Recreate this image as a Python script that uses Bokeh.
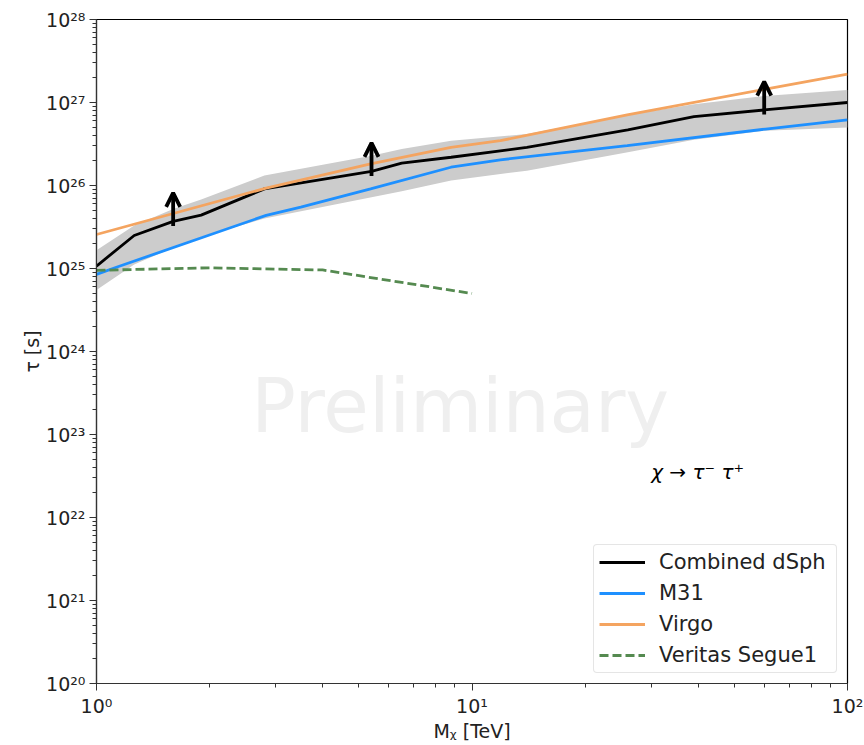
from bokeh.plotting import figure
from bokeh.models import (Range1d, FixedTicker, CustomJSTickFormatter, Arrow, OpenHead,
                          ColumnDataSource, Legend, LegendItem, Label)
from bokeh.core.properties import value
from bokeh.embed import file_html
from bokeh.resources import INLINE

# Combined dSph lower limit on lifetime (tau -> tau- tau+), with its band
dsph_mass = [1.0, 1.26, 1.6, 1.9, 2.8, 5.4, 6.5, 8.8, 14.0, 26.0, 39.0, 60.0, 100.0]
dsph_tau = [1.07e25, 2.5e25, 3.7e25, 4.4e25, 9.1e25, 1.48e26, 1.86e26, 2.19e26,
            2.88e26, 4.68e26, 6.76e26, 8.13e26, 1.0e27]
band_hi = [1.66e25, 3.3e25, 5.2e25, 6.8e25, 1.32e26, 2.29e26, 2.75e26, 3.47e26,
           4.17e26, 7.08e26, 9.55e26, 1.2e27, 1.41e27]
band_lo = [5.5e24, 1.12e25, 1.78e25, 2.4e25, 4.0e25, 7.2e25, 8.5e25, 1.15e26,
           1.51e26, 2.51e26, 3.55e26, 4.57e26, 5.0e26]

# M31
m31_mass = [1.0, 1.14, 2.83, 3.5, 5.37, 8.79, 11.9, 25.9, 60.5, 100.0]
m31_tau = [8.5e24, 1.05e25, 4.37e25, 5.5e25, 9.1e25, 1.66e26, 2.04e26, 3.02e26,
           4.79e26, 6.17e26]

# Virgo
virgo_mass = [1.0, 2.83, 5.37, 8.79, 11.9, 25.9, 60.5, 100.0]
virgo_tau = [2.57e25, 9.3e25, 1.82e26, 2.88e26, 3.47e26, 7.08e26, 1.45e27, 2.19e27]

# VERITAS Segue 1
veritas_mass = [1.0, 2.0, 4.0, 10.0]
veritas_tau = [9.5e24, 1.02e25, 9.6e24, 5.0e24]

# Masses (indices into dsph_mass) carrying a lower-limit arrow
arrow_idx = [2, 5, 11]

x_ticks = [1, 10, 100]
y_ticks = [10.0 ** k for k in range(20, 29)]

FONT = "DejaVu Sans"

p = figure(width=864, height=745, x_axis_type="log", y_axis_type="log",
           x_range=Range1d(1, 100), y_range=Range1d(1e20, 1e28),
           output_backend="svg", toolbar_location=None,
           min_border_left=96, min_border_right=17, min_border_top=19, min_border_bottom=62)
p.grid.visible = False
p.background_fill_color = "white"
p.outline_line_color = "black"
p.outline_line_width = 1.2

x_minor = [m * 10 ** d for d in range(0, 2) for m in range(2, 10)]
y_minor = [m * 10.0 ** d for d in range(20, 28) for m in range(2, 10)]
p.xaxis.ticker = FixedTicker(ticks=x_ticks, minor_ticks=x_minor)
p.yaxis.ticker = FixedTicker(ticks=y_ticks, minor_ticks=y_minor)

fmt = CustomJSTickFormatter(code="""
const sup = {'0':'\u2070','1':'\u00b9','2':'\u00b2','3':'\u00b3','4':'\u2074',
             '5':'\u2075','6':'\u2076','7':'\u2077','8':'\u2078','9':'\u2079','-':'\u207b'};
const e = Math.round(Math.log10(tick));
return '10' + String(e).split('').map(c => sup[c]).join('');
""")
for ax in (p.xaxis[0], p.yaxis[0]):
    ax.formatter = fmt
    ax.major_label_text_font = FONT
    ax.major_label_text_font_size = "19px"
    ax.major_label_text_color = "#222222"
    ax.axis_label_text_font = FONT
    ax.axis_label_text_font_size = "19px"
    ax.axis_label_text_font_style = "normal"
    ax.axis_label_text_color = "#222222"
    ax.axis_line_color = "#333333"
    ax.axis_line_width = 1.2
    ax.major_tick_line_color = "#333333"
    ax.minor_tick_line_color = "#333333"
    ax.major_tick_out = 7
    ax.major_tick_in = 0
    ax.minor_tick_out = 4
    ax.minor_tick_in = 0
    ax.major_label_standoff = 4

p.xaxis.axis_label = "M\u1d6a [TeV]"
p.yaxis.axis_label = "\u03c4 [s]"
p.xaxis.axis_label_standoff = 0
p.yaxis.axis_label_standoff = 0

# Watermark
p.add_layout(Label(x=9.3, y=2.2e23, text="Preliminary", text_align="center",
                   text_baseline="alphabetic", text_font=FONT, text_font_size="74px",
                   text_color="#efefef"))

# Uncertainty band for the combined dSph limit
p.varea(x=dsph_mass, y1=band_lo, y2=band_hi, fill_color="#cccccc")

r_dsph = p.line(dsph_mass, dsph_tau, line_color="black", line_width=2.8)
r_m31 = p.line(m31_mass, m31_tau, line_color="#1e90ff", line_width=2.8)
r_virgo = p.line(virgo_mass, virgo_tau, line_color="#f4a460", line_width=2.8)
r_ver = p.line(veritas_mass, veritas_tau, line_color="#558a50", line_width=2.8,
               line_dash="9 4")

# Lower-limit arrows on the combined dSph curve
arrow_src = ColumnDataSource(dict(
    x=[dsph_mass[i] for i in arrow_idx],
    y0=[dsph_tau[i] * 0.88 for i in arrow_idx],
    y1=[dsph_tau[i] * 2.2 for i in arrow_idx],
))
p.add_layout(Arrow(source=arrow_src, x_start="x", y_start="y0", x_end="x", y_end="y1",
                   line_width=3.8, line_color="black",
                   end=OpenHead(size=14, line_width=3.8, line_color="black")))

# Channel annotation
p.text(x=[30], y=[3.5e22], text=["\u03c7 \u2192 \u03c4\u207b \u03c4\u207a"],
       text_font=value(FONT), text_font_size="20px", text_font_style="italic",
       text_baseline="alphabetic", text_color="black")

legend = Legend(items=[
    LegendItem(label="Combined dSph", renderers=[r_dsph]),
    LegendItem(label="M31", renderers=[r_m31]),
    LegendItem(label="Virgo", renderers=[r_virgo]),
    LegendItem(label="Veritas Segue1", renderers=[r_ver]),
], location="bottom_right")
legend.label_text_font = FONT
legend.label_text_font_size = "21px"
legend.label_text_color = "#222222"
legend.glyph_width = 46
legend.glyph_height = 24
legend.label_height = 24
legend.label_width = 172
legend.label_standoff = 14
legend.padding = 5
legend.spacing = 7
legend.margin = 10
legend.border_line_color = "#cccccc"
legend.border_line_width = 1.2
legend.border_radius = 4
legend.background_fill_alpha = 0.85
p.add_layout(legend)

open("out.html", "w").write(file_html(p, INLINE))
